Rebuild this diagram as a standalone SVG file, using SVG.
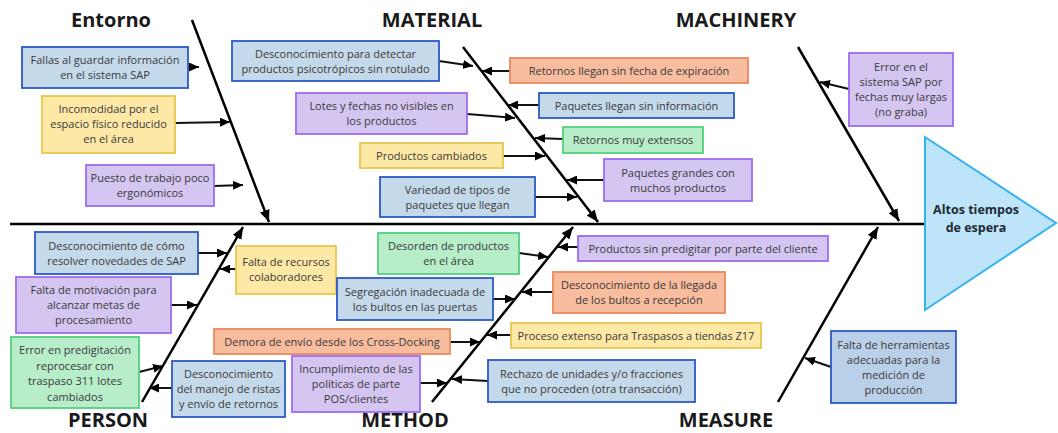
<svg xmlns="http://www.w3.org/2000/svg" width="1058" height="433" viewBox="0 0 1058 433">
<style>
.bx{stroke-width:1.8}
.blue{fill:#c4d9ea;stroke:#2d58c6}
.blue2{fill:#b9d0e8;stroke:#2d58c6}
.purple{fill:#d4c5f1;stroke:#9d6cf0}
.yellow{fill:#fde8a6;stroke:#e8c64f}
.green{fill:#b7edc8;stroke:#55d07f}
.orange{fill:#f8bc9e;stroke:#e8895c}
.t{font-family:"Open Sans","Noto Sans",sans-serif;font-size:11px;fill:#3a3a3a;text-anchor:middle}
.h{font-family:"Open Sans","Noto Sans",sans-serif;font-size:20px;font-weight:bold;fill:#1a1a1a;text-anchor:middle}
.bone{stroke:#000;stroke-width:2.5;fill:none}
.arr{stroke:#111;stroke-width:2;fill:none}
</style>
<defs>
<marker id="ah" markerUnits="userSpaceOnUse" markerWidth="10" markerHeight="9" refX="10" refY="4.5" orient="auto"><path d="M0,0 L10,4.5 L0,9 z" fill="#000"/></marker>
<marker id="ahb" markerUnits="userSpaceOnUse" markerWidth="12" markerHeight="10" refX="12" refY="5" orient="auto"><path d="M0,0 L12,5 L0,10 z" fill="#000"/></marker>
</defs>
<rect width="1058" height="433" fill="#fff"/>

<g id="headers">
<text class="h" x="111" y="27">Entorno</text>
<text class="h" x="432" y="27">MATERIAL</text>
<text class="h" x="736" y="27">MACHINERY</text>
<text class="h" x="108" y="427">PERSON</text>
<text class="h" x="405" y="427">METHOD</text>
<text class="h" x="726" y="427">MEASURE</text>
</g>

<g id="connectors">
<line class="bone" x1="10" y1="224" x2="926" y2="224"/>
<line class="bone" x1="192" y1="20" x2="269" y2="222" marker-end="url(#ahb)"/>
<line class="bone" x1="463" y1="47" x2="598" y2="222" marker-end="url(#ahb)"/>
<line class="bone" x1="798" y1="47" x2="899" y2="221" marker-end="url(#ahb)"/>
<line class="bone" x1="142" y1="402" x2="243" y2="227" marker-end="url(#ahb)"/>
<line class="bone" x1="432" y1="402" x2="573" y2="227" marker-end="url(#ahb)"/>
<line class="bone" x1="778" y1="402" x2="878" y2="227" marker-end="url(#ahb)"/>
<line class="arr" x1="188" y1="67" x2="199" y2="67" marker-end="url(#ah)"/>
<line class="arr" x1="175" y1="123" x2="230" y2="122" marker-end="url(#ah)"/>
<line class="arr" x1="214" y1="186" x2="243" y2="185" marker-end="url(#ah)"/>
<line class="arr" x1="439" y1="61" x2="473" y2="66" marker-end="url(#ah)"/>
<line class="arr" x1="467" y1="114" x2="515" y2="118" marker-end="url(#ah)"/>
<line class="arr" x1="503" y1="156" x2="545" y2="156" marker-end="url(#ah)"/>
<line class="arr" x1="535" y1="197" x2="577" y2="197" marker-end="url(#ah)"/>
<line class="arr" x1="510" y1="71" x2="482" y2="71" marker-end="url(#ah)"/>
<line class="arr" x1="539" y1="105" x2="508" y2="105" marker-end="url(#ah)"/>
<line class="arr" x1="563" y1="139" x2="535" y2="138" marker-end="url(#ah)"/>
<line class="arr" x1="604" y1="180" x2="567" y2="180" marker-end="url(#ah)"/>
<line class="arr" x1="849" y1="89" x2="820" y2="82" marker-end="url(#ah)"/>
<line class="arr" x1="198" y1="253" x2="227" y2="253" marker-end="url(#ah)"/>
<line class="arr" x1="171" y1="305" x2="197" y2="305" marker-end="url(#ah)"/>
<line class="arr" x1="139" y1="372" x2="163" y2="366" marker-end="url(#ah)"/>
<line class="arr" x1="236" y1="269" x2="220" y2="269" marker-end="url(#ah)"/>
<line class="arr" x1="172" y1="388" x2="149" y2="388" marker-end="url(#ah)"/>
<line class="arr" x1="519" y1="253" x2="548" y2="257" marker-end="url(#ah)"/>
<line class="arr" x1="493" y1="299" x2="515" y2="299" marker-end="url(#ah)"/>
<line class="arr" x1="450" y1="342" x2="480" y2="342" marker-end="url(#ah)"/>
<line class="arr" x1="420" y1="383" x2="447" y2="383" marker-end="url(#ah)"/>
<line class="arr" x1="578" y1="247" x2="558" y2="247" marker-end="url(#ah)"/>
<line class="arr" x1="553" y1="292" x2="522" y2="292" marker-end="url(#ah)"/>
<line class="arr" x1="511" y1="335" x2="487" y2="335" marker-end="url(#ah)"/>
<line class="arr" x1="488" y1="381" x2="452" y2="379" marker-end="url(#ah)"/>
<line class="arr" x1="831" y1="367" x2="805" y2="358" marker-end="url(#ah)"/>
</g>

<g id="head">
<polygon points="925,137 1056,223 925,310" fill="#bde4f8" stroke="#36b3ef" stroke-width="2"/>
<text x="976" y="214" font-family="Open Sans, Noto Sans, sans-serif" font-size="12.5" font-weight="bold" fill="#1f2a33" text-anchor="middle">Altos tiempos</text>
<text x="976" y="232" font-family="Open Sans, Noto Sans, sans-serif" font-size="12.5" font-weight="bold" fill="#1f2a33" text-anchor="middle">de espera</text>
</g>

<g id="n1"><rect class="bx blue" x="22" y="47" width="166" height="41"/><text class="t" x="105" y="64">Fallas al guardar información</text><text class="t" x="105" y="79">en el sistema SAP</text></g>
<g id="n2"><rect class="bx yellow" x="42" y="96" width="133" height="57"/><text class="t" x="108.5" y="113">Incomodidad por el</text><text class="t" x="108.5" y="128">espacio físico reducido</text><text class="t" x="108.5" y="143">en el área</text></g>
<g id="n3"><rect class="bx purple" x="86" y="165" width="128" height="41"/><text class="t" x="150" y="182">Puesto de trabajo poco</text><text class="t" x="150" y="197">ergonómicos</text></g>
<g id="n4"><rect class="bx blue" x="232" y="41" width="207" height="40"/><text class="t" x="335.5" y="57.5">Desconocimiento para detectar</text><text class="t" x="335.5" y="72.5">productos psicotrópicos sin rotulado</text></g>
<g id="n5"><rect class="bx purple" x="296" y="93" width="171" height="41"/><text class="t" x="381.5" y="110">Lotes y fechas no visibles en</text><text class="t" x="381.5" y="125">los productos</text></g>
<g id="n6"><rect class="bx yellow" x="360" y="143" width="143" height="25"/><text class="t" x="431.5" y="159.5">Productos cambiados</text></g>
<g id="n7"><rect class="bx blue" x="380" y="177" width="155" height="40"/><text class="t" x="457.5" y="193.5">Variedad de tipos de</text><text class="t" x="457.5" y="208.5">paquetes que llegan</text></g>
<g id="n8"><rect class="bx orange" x="510" y="58" width="238" height="25"/><text class="t" x="629" y="74.5">Retornos llegan sin fecha de expiración</text></g>
<g id="n9"><rect class="bx blue" x="539" y="93" width="195" height="25"/><text class="t" x="636.5" y="109.5">Paquetes llegan sin información</text></g>
<g id="n10"><rect class="bx green" x="563" y="127" width="140" height="26"/><text class="t" x="633" y="144">Retornos muy extensos</text></g>
<g id="n11"><rect class="bx purple" x="604" y="159" width="148" height="42"/><text class="t" x="678" y="176.5">Paquetes grandes con</text><text class="t" x="678" y="191.5">muchos productos</text></g>
<g id="n12"><rect class="bx purple" x="849" y="53" width="104" height="73"/><text class="t" x="901" y="71">Error en el</text><text class="t" x="901" y="86">sistema SAP por</text><text class="t" x="901" y="101">fechas muy largas</text><text class="t" x="901" y="116">(no graba)</text></g>
<g id="n13"><rect class="bx blue" x="35" y="232" width="163" height="42"/><text class="t" x="116.5" y="249.5">Desconocimiento de cómo</text><text class="t" x="116.5" y="264.5">resolver novedades de SAP</text></g>
<g id="n14"><rect class="bx purple" x="16" y="277" width="155" height="56"/><text class="t" x="93.5" y="294">Falta de motivación para</text><text class="t" x="93.5" y="309">alcanzar metas de</text><text class="t" x="93.5" y="324">procesamiento</text></g>
<g id="n15"><rect class="bx green" x="11" y="337" width="128" height="71"/><text class="t" x="75" y="354">Error en predigitación</text><text class="t" x="75" y="369.5">reprocesar con</text><text class="t" x="75" y="385">traspaso 311 lotes</text><text class="t" x="75" y="400.5">cambiados</text></g>
<g id="n16"><rect class="bx yellow" x="236" y="246" width="100" height="48"/><text class="t" x="286" y="266">Falta de recursos</text><text class="t" x="286" y="281">colaboradores</text></g>
<g id="n17"><rect class="bx blue" x="172" y="361" width="113" height="56"/><text class="t" x="228.5" y="378">Desconocimiento</text><text class="t" x="228.5" y="393">del manejo de ristas</text><text class="t" x="228.5" y="408">y envío de retornos</text></g>
<g id="n18"><rect class="bx green" x="378" y="233" width="141" height="41"/><text class="t" x="448.5" y="250">Desorden de productos</text><text class="t" x="448.5" y="265">en el área</text></g>
<g id="n19"><rect class="bx blue" x="337" y="278" width="156" height="42"/><text class="t" x="415" y="295.5">Segregación inadecuada de</text><text class="t" x="415" y="310.5">los bultos en las puertas</text></g>
<g id="n20"><rect class="bx orange" x="214" y="329" width="236" height="25"/><text class="t" x="332" y="345.5">Demora de envío desde los Cross-Docking</text></g>
<g id="n21"><rect class="bx purple" x="292" y="356" width="128" height="56"/><text class="t" x="356" y="373">Incumplimiento de las</text><text class="t" x="356" y="388">políticas de parte</text><text class="t" x="356" y="403">POS/clientes</text></g>
<g id="n22"><rect class="bx purple" x="578" y="236" width="250" height="25"/><text class="t" x="703" y="252.5">Productos sin predigitar por parte del cliente</text></g>
<g id="n23"><rect class="bx orange" x="553" y="272" width="172" height="41"/><text class="t" x="639" y="289">Desconocimiento de la llegada</text><text class="t" x="639" y="304">de los bultos a recepción</text></g>
<g id="n24"><rect class="bx yellow" x="511" y="323" width="250" height="25"/><text class="t" x="636" y="339.5">Proceso extenso para Traspasos a tiendas Z17</text></g>
<g id="n25"><rect class="bx blue" x="488" y="360" width="207" height="42"/><text class="t" x="591.5" y="377.5">Rechazo de unidades y/o fracciones</text><text class="t" x="591.5" y="392.5">que no proceden (otra transacción)</text></g>
<g id="n26"><rect class="bx blue2" x="831" y="331" width="125" height="72"/><text class="t" x="893.5" y="349">Falta de herramientas</text><text class="t" x="893.5" y="364">adecuadas para la</text><text class="t" x="893.5" y="379">medición de</text><text class="t" x="893.5" y="394">producción</text></g>
</svg>
